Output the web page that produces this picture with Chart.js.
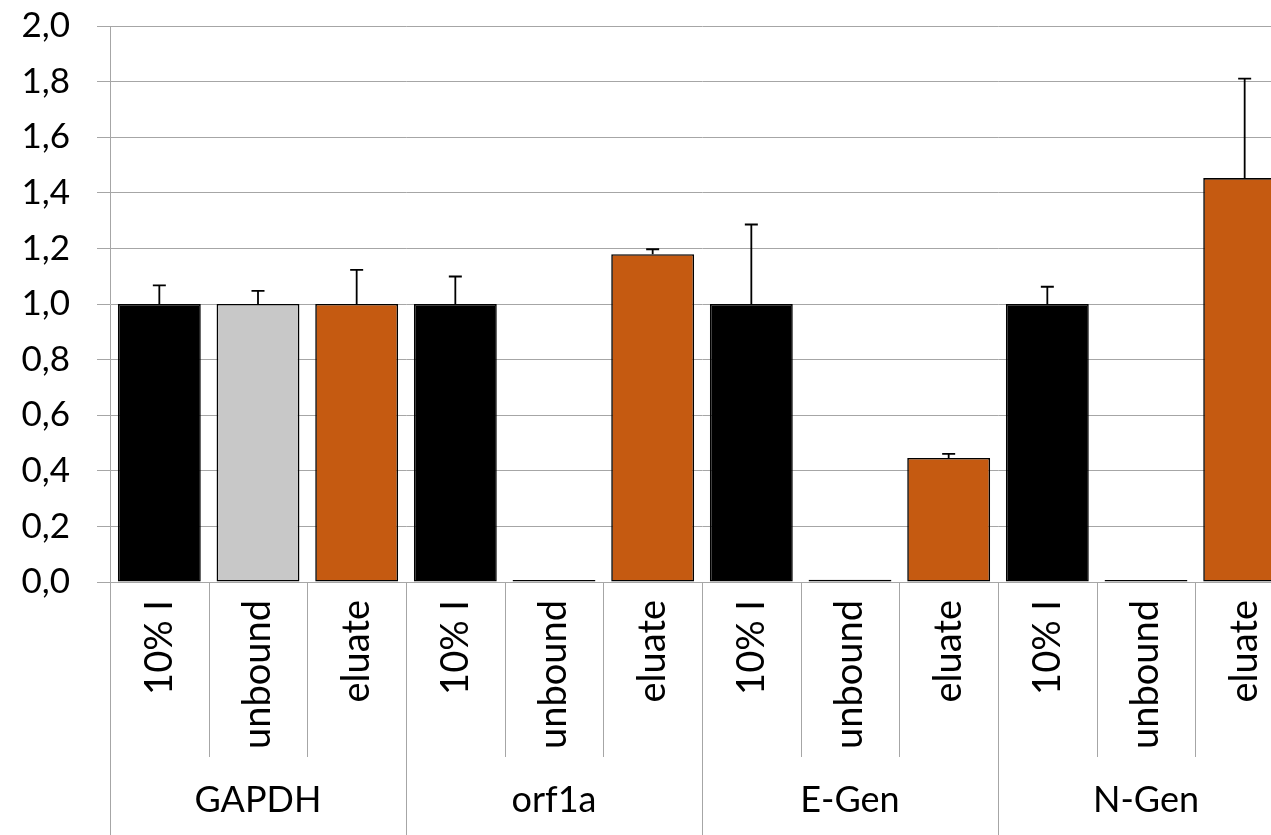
<!DOCTYPE html>
<html>
<head>
<meta charset="utf-8">
<script src="https://cdn.jsdelivr.net/npm/chart.js@4/dist/chart.umd.min.js"></script>
<style>
  html, body { margin: 0; padding: 0; background: #fff; overflow: hidden; }
  #wrap { width: 1300px; height: 835px; }
</style>
</head>
<body>
<div id="wrap"><canvas id="myChart" width="1300" height="835"></canvas></div>
<script>
const groups = ['GAPDH', 'orf1a', 'E-Gen', 'N-Gen'];
const conditions = ['10% I', 'unbound', 'eluate'];
const values = [1.0, 1.0, 1.0, 1.0, 0.007, 1.179, 1.0, 0.008, 0.446, 1.0, 0.007, 1.453];
const errors = [0.067, 0.047, 0.123, 0.099, 0, 0.018, 0.286, 0, 0.015, 0.062, 0, 0.358];
const yTicks = [0, 0.2, 0.4, 0.6, 0.8, 1.0, 1.2, 1.4, 1.6, 1.8, 2.0];

const conditionColors = { '10% I': '#000000', 'unbound': '#c8c8c8', 'eluate': '#c55a11' };
const gridColor = '#a6a6a6';
const fontFamily = 'Lato, "Open Sans", sans-serif';

const labels = [];
groups.forEach(g => conditions.forEach(c => labels.push(c)));

// upward-only error bars with a small cap
const errorBars = {
  id: 'errorBars',
  afterDatasetsDraw(chart) {
    const ctx = chart.ctx;
    const y = chart.scales.y;
    const meta = chart.getDatasetMeta(0);
    ctx.save();
    ctx.strokeStyle = '#000';
    ctx.lineWidth = 1.8;
    meta.data.forEach((bar, i) => {
      if (!errors[i]) return;
      const top = y.getPixelForValue(values[i] + errors[i]);
      ctx.beginPath();
      ctx.moveTo(bar.x, bar.y);
      ctx.lineTo(bar.x, top);
      ctx.moveTo(bar.x - 6.5, top);
      ctx.lineTo(bar.x + 6.5, top);
      ctx.stroke();
    });
    ctx.restore();
  }
};

// two-level category axis: rotated condition labels, gene names below
const groupedAxis = {
  id: 'groupedAxis',
  afterDraw(chart) {
    const ctx = chart.ctx;
    const xs = chart.scales.x;
    const area = chart.chartArea;
    const step = xs.getPixelForValue(1) - xs.getPixelForValue(0);
    ctx.save();
    ctx.strokeStyle = gridColor;
    ctx.lineWidth = 1;
    for (let i = 0; i <= labels.length; i++) {
      const x = Math.round(xs.getPixelForValue(i) - step / 2) + 0.5;
      const bottom = i % conditions.length === 0 ? chart.height : area.bottom + 175;
      ctx.beginPath();
      ctx.moveTo(x, area.bottom);
      ctx.lineTo(x, bottom);
      ctx.stroke();
    }
    ctx.fillStyle = '#000';
    ctx.font = '38px ' + fontFamily;
    labels.forEach((lab, i) => {
      ctx.save();
      ctx.translate(xs.getPixelForValue(i), area.bottom + 18);
      ctx.rotate(-Math.PI / 2);
      ctx.textAlign = 'right';
      ctx.textBaseline = 'middle';
      ctx.fillText(lab, 0, 0);
      ctx.restore();
    });
    ctx.font = '36px ' + fontFamily;
    ctx.textAlign = 'center';
    ctx.textBaseline = 'middle';
    groups.forEach((g, gi) => {
      const first = xs.getPixelForValue(gi * conditions.length);
      const last = xs.getPixelForValue(gi * conditions.length + conditions.length - 1);
      ctx.fillText(g, (first + last) / 2, area.bottom + 218);
    });
    ctx.restore();
  }
};

new Chart(document.getElementById('myChart').getContext('2d'), {
  type: 'bar',
  data: {
    labels: labels,
    datasets: [{
      data: values,
      backgroundColor: labels.map(l => conditionColors[l]),
      borderColor: '#000',
      borderWidth: 1.6,
      borderSkipped: false,
      barPercentage: 0.84,
      categoryPercentage: 1.0
    }]
  },
  options: {
    responsive: false,
    animation: false,
    layout: { padding: { top: 26, right: 6, bottom: 253, left: 0 } },
    plugins: { legend: { display: false }, tooltip: { enabled: false } },
    scales: {
      x: { display: false },
      y: {
        min: 0,
        max: 2,
        afterFit(scale) {
          scale.width = 110;
          scale.paddingTop = 0;
          scale.paddingBottom = 0;
        },
        afterBuildTicks(scale) { scale.ticks = yTicks.map(v => ({ value: v })); },
        grid: { color: gridColor, lineWidth: 1, tickLength: 13 },
        border: { color: gridColor, width: 1 },
        ticks: {
          padding: 27,
          color: '#000',
          font: { family: fontFamily, size: 35 },
          callback: v => v.toFixed(1).replace('.', ',')
        }
      }
    }
  },
  plugins: [errorBars, groupedAxis]
});
</script>
</body>
</html>
